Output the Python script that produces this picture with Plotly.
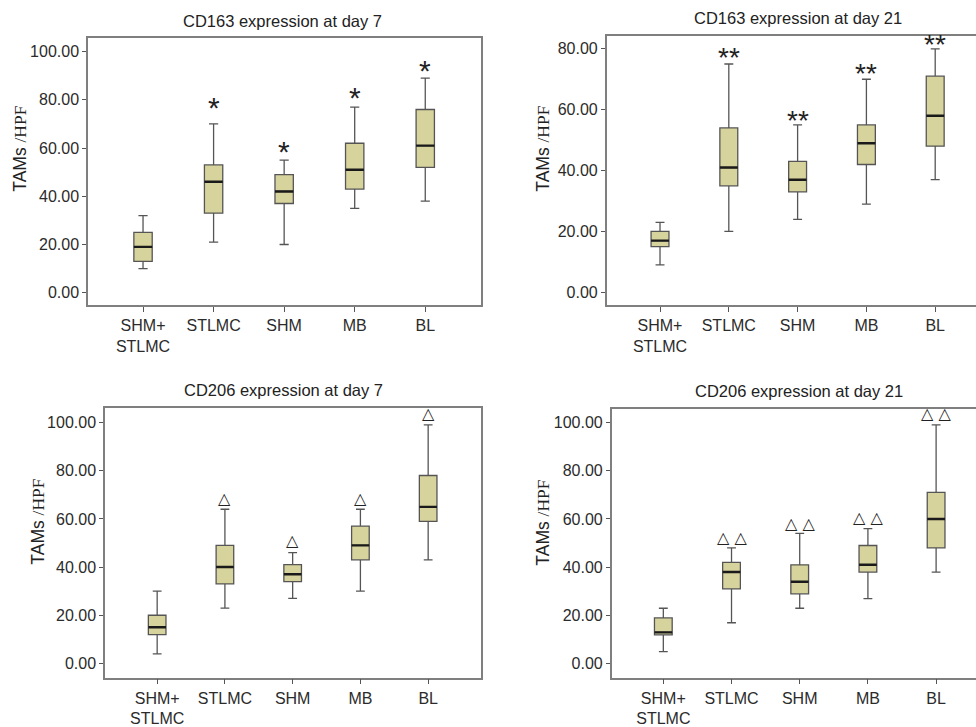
import plotly.graph_objects as go

# ---------------- data ----------------
categories = ["SHM+<br>STLMC", "STLMC", "SHM", "MB", "BL"]

cd163_d7_low = [10, 21, 20, 35, 38]
cd163_d7_q1 = [13, 33, 37, 43, 52]
cd163_d7_med = [19, 46, 42, 51, 61]
cd163_d7_q3 = [25, 53, 49, 62, 76]
cd163_d7_high = [32, 70, 55, 77, 89]
cd163_d7_sig = ["", "*", "*", "*", "*"]
cd163_d7_sig_y = [None, 78.8, 60.3, 82.9, 94.1]

cd163_d21_low = [9, 20, 24, 29, 37]
cd163_d21_q1 = [15, 35, 33, 42, 48]
cd163_d21_med = [17, 41, 37, 49, 58]
cd163_d21_q3 = [20, 54, 43, 55, 71]
cd163_d21_high = [23, 75, 55, 70, 80]
cd163_d21_sig = ["", "**", "**", "**", "**"]
cd163_d21_sig_y = [None, 78.7, 57.9, 73.3, 82.7]

cd206_d7_low = [4, 23, 27, 30, 43]
cd206_d7_q1 = [12, 33, 34, 43, 59]
cd206_d7_med = [15, 40, 37, 49, 65]
cd206_d7_q3 = [20, 49, 41, 57, 78]
cd206_d7_high = [30, 64, 46, 64, 99]
cd206_d7_sig = ["", "△", "△", "△", "△"]
cd206_d7_sig_y = [None, 68.2, 50.6, 68.2, 103.4]

cd206_d21_low = [5, 17, 23, 27, 38]
cd206_d21_q1 = [12, 31, 29, 38, 48]
cd206_d21_med = [13, 38, 34, 41, 60]
cd206_d21_q3 = [19, 42, 41, 49, 71]
cd206_d21_high = [23, 48, 54, 56, 99]
cd206_d21_sig = ["", "△ △", "△ △", "△ △", "△ △"]
cd206_d21_sig_y = [None, 51.8, 57.5, 60.3, 103.2]

titles = ["CD163 expression at day 7", "CD163 expression at day 21",
          "CD206 expression at day 7", "CD206 expression at day 21"]
y_title = "TAMs <span style='font-family:Liberation Serif'>/HPF</span>"

# ---------------- styling ----------------
W, H = 976, 727
FONT = "Liberation Sans, Arial, sans-serif"
BOX_FILL = "#d7d39c"
BOX_LINE = "#555555"
FRAME = "#7f7f7f"

panels = [
    dict(low=cd163_d7_low, q1=cd163_d7_q1, med=cd163_d7_med, q3=cd163_d7_q3, high=cd163_d7_high,
         sig=cd163_d7_sig, sig_y=cd163_d7_sig_y,
         px=(88, 481), py=(38, 308), xr=(-0.78, 4.79), yr=(-5.3, 105.8),
         title_xy=(282, 21), ylab_xy=(20, 150), sigsize=30, sigfont=FONT, sigshift=-4.5),
    dict(low=cd163_d21_low, q1=cd163_d21_q1, med=cd163_d21_med, q3=cd163_d21_q3, high=cd163_d21_high,
         sig=cd163_d21_sig, sig_y=cd163_d21_sig_y,
         px=(606.7, 976), py=(36, 308), xr=(-0.775, 4.593), yr=(-4.3, 84.3),
         title_xy=(798, 18), ylab_xy=(543, 150), sigsize=28, sigfont=FONT, sigshift=-4.3),
    dict(low=cd206_d7_low, q1=cd206_d7_q1, med=cd206_d7_med, q3=cd206_d7_q3, high=cd206_d7_high,
         sig=cd206_d7_sig, sig_y=cd206_d7_sig_y,
         px=(105, 481), py=(411.7, 683.3), xr=(-0.77, 4.78), yr=(-5.9, 105.9),
         title_xy=(283, 393), ylab_xy=(38, 526), sigsize=16, sigfont="DejaVu Sans", sigshift=1),
    dict(low=cd206_d21_low, q1=cd206_d21_q1, med=cd206_d21_med, q3=cd206_d21_q3, high=cd206_d21_high,
         sig=cd206_d21_sig, sig_y=cd206_d21_sig_y,
         px=(611.7, 976), py=(412.3, 683.3), xr=(-0.757, 4.585), yr=(-5.75, 105.6),
         title_xy=(799, 394), ylab_xy=(543, 527), sigsize=16, sigfont="DejaVu Sans", sigshift=1),
]

fig = go.Figure()
annotations = []
layout_axes = {}

for i, p in enumerate(panels):
    n = i + 1
    xa = "x" if n == 1 else f"x{n}"
    ya = "y" if n == 1 else f"y{n}"
    # main boxes
    fig.add_trace(go.Box(
        x=categories, q1=p["q1"], median=p["med"], q3=p["q3"],
        lowerfence=p["low"], upperfence=p["high"],
        xaxis=xa, yaxis=ya, width=0.26, whiskerwidth=0.5,
        fillcolor=BOX_FILL, line=dict(color=BOX_LINE, width=1.3),
        boxpoints=False, showlegend=False, hoverinfo="skip",
    ))
    # darker, thicker median line overlay
    fig.add_trace(go.Box(
        x=categories, q1=p["med"], median=p["med"], q3=p["med"],
        lowerfence=p["med"], upperfence=p["med"],
        xaxis=xa, yaxis=ya, width=0.26, whiskerwidth=0,
        fillcolor="rgba(0,0,0,0)", line=dict(color="#1a1a1a", width=2.4),
        boxpoints=False, showlegend=False, hoverinfo="skip",
    ))
    x0, x1 = p["px"]
    yt, yb = p["py"]
    right_edge = x1 >= W
    layout_axes["xaxis" if n == 1 else f"xaxis{n}"] = dict(
        domain=[x0 / W, min(x1 / W, 1.0)], anchor=ya, range=list(p["xr"]),
        type="category", showline=True, mirror=True, linecolor=FRAME, linewidth=1.5,
        ticks="outside", ticklen=5, tickcolor="#555", showgrid=False, zeroline=False,
        tickfont=dict(family=FONT, size=16, color="#2b2b2b"),
    )
    layout_axes["yaxis" if n == 1 else f"yaxis{n}"] = dict(
        domain=[1 - yb / H, 1 - yt / H], anchor=xa, range=list(p["yr"]),
        showline=True, mirror=(not right_edge), linecolor=FRAME, linewidth=1.5,
        ticks="outside", ticklen=4, tickcolor="#555", showgrid=False, zeroline=False,
        dtick=20, tick0=0, tickformat=".2f",
        tickfont=dict(family=FONT, size=16, color="#2b2b2b"),
    )
    # significance marks
    for c, sy, s in zip(categories, p["sig_y"], p["sig"]):
        if s:
            annotations.append(dict(
                x=c, y=sy, xref=xa, yref=ya, text=s, showarrow=False,
                yanchor="middle", yshift=p["sigshift"],
                font=dict(family=p["sigfont"], size=p["sigsize"], color="#222"),
            ))
    # panel title
    tx, ty = p["title_xy"]
    annotations.append(dict(
        x=tx / W, y=1 - ty / H, xref="paper", yref="paper", text=titles[i],
        showarrow=False, xanchor="center", yanchor="middle",
        font=dict(family=FONT, size=16.5, color="#222"),
    ))
    # y-axis label
    lx, ly = p["ylab_xy"]
    annotations.append(dict(
        x=lx / W, y=1 - ly / H, xref="paper", yref="paper", text=y_title,
        showarrow=False, xanchor="center", yanchor="middle", textangle=-90,
        font=dict(family=FONT, size=17.5, color="#222"),
    ))

fig.update_layout(
    width=W, height=H, margin=dict(l=0, r=0, t=0, b=0),
    paper_bgcolor="white", plot_bgcolor="white",
    annotations=annotations, boxmode="overlay", showlegend=False,
    **layout_axes,
)

fig.write_html(
    "out.html",
    config={"displayModeBar": False},
    post_script="document.body.style.margin='0';document.body.style.overflow='hidden';",
)
